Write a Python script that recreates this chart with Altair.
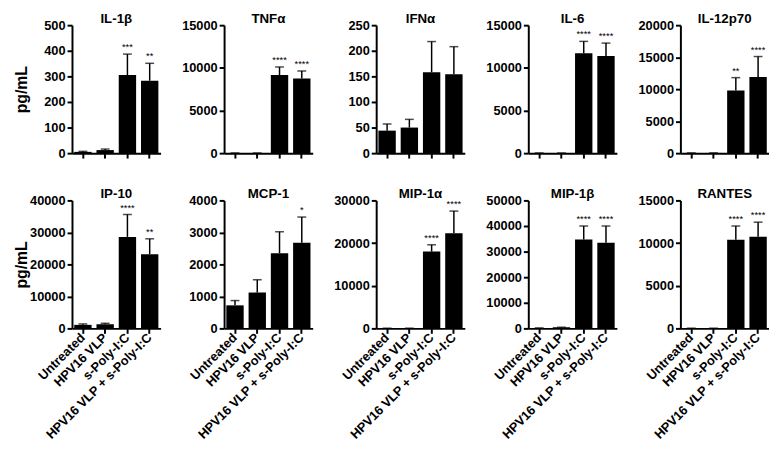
import altair as alt
import pandas as pd

groups = ["Untreated", "HPV16 VLP", "s-Poly-I:C", "HPV16 VLP + s-Poly-I:C"]

cytokines = ["IL-1β", "TNFα", "IFNα", "IL-6", "IL-12p70",
             "IP-10", "MCP-1", "MIP-1α", "MIP-1β", "RANTES"]

mean_il1b = [5, 12, 305, 283]
mean_tnfa = [20, 20, 9150, 8750]
mean_ifna = [44, 50, 158, 154]
mean_il6 = [20, 20, 11700, 11400]
mean_il12 = [30, 30, 9800, 11900]
mean_ip10 = [1100, 1300, 28600, 23200]
mean_mcp1 = [720, 1120, 2350, 2680]
mean_mip1a = [40, 40, 18000, 22300]
mean_mip1b = [150, 400, 34700, 33500]
mean_rantes = [20, 20, 10400, 10750]

err_il1b = [2, 4, 82, 68]
err_tnfa = [5, 5, 950, 880]
err_ifna = [13, 16, 60, 54]
err_il6 = [5, 5, 1400, 1500]
err_il12 = [10, 10, 2000, 3200]
err_ip10 = [300, 300, 7000, 4800]
err_mcp1 = [150, 400, 670, 800]
err_mip1a = [10, 10, 1600, 5200]
err_mip1b = [50, 100, 5300, 6500]
err_rantes = [5, 5, 1600, 1700]

stars_il1b = ["", "", "***", "**"]
stars_tnfa = ["", "", "****", "****"]
stars_ifna = ["", "", "", ""]
stars_il6 = ["", "", "****", "****"]
stars_il12 = ["", "", "**", "****"]
stars_ip10 = ["", "", "****", "**"]
stars_mcp1 = ["", "", "", "*"]
stars_mip1a = ["", "", "****", "****"]
stars_mip1b = ["", "", "****", "****"]
stars_rantes = ["", "", "****", "****"]

ymax = [500, 15000, 250, 15000, 20000, 40000, 4000, 30000, 50000, 15000]
ystep = [100, 5000, 50, 5000, 5000, 10000, 1000, 10000, 10000, 5000]

means = [mean_il1b, mean_tnfa, mean_ifna, mean_il6, mean_il12,
         mean_ip10, mean_mcp1, mean_mip1a, mean_mip1b, mean_rantes]
errs = [err_il1b, err_tnfa, err_ifna, err_il6, err_il12,
        err_ip10, err_mcp1, err_mip1a, err_mip1b, err_rantes]
stars = [stars_il1b, stars_tnfa, stars_ifna, stars_il6, stars_il12,
         stars_ip10, stars_mcp1, stars_mip1a, stars_mip1b, stars_rantes]

FONT = "Liberation Sans"
W, H = 90, 130


def panel(i, row, col):
    df = pd.DataFrame({
        "group": groups,
        "mean": means[i],
        "top": [m + e for m, e in zip(means[i], errs[i])],
        "star": stars[i],
    })
    ticks = list(range(0, ymax[i] + 1, ystep[i]))
    yaxis_kw = dict(values=ticks, format="d", grid=False, labelOverlap=False,
                    tickCount=len(ticks),
                    labelFontSize=13, labelFontWeight="bold", labelFont=FONT,
                    labelColor="black", tickSize=5, tickWidth=2, tickColor="black",
                    domainWidth=2, domainColor="black", labelPadding=2)
    if col == 0:
        yaxis = alt.Axis(title="pg/mL", titleFontSize=16, titleFontWeight="bold",
                         titleFont=FONT, titleColor="black", titlePadding=5,
                         minExtent=38, maxExtent=38, **yaxis_kw)
    else:
        yaxis = alt.Axis(title=None, **yaxis_kw)
    xaxis_kw = dict(title=None, tickSize=5, tickWidth=2, tickColor="black",
                    domainWidth=2, domainColor="black")
    if row == 0:
        xaxis = alt.Axis(labels=False, **xaxis_kw)
    else:
        xaxis = alt.Axis(labelAngle=-45, labelAlign="right", labelBaseline="middle",
                         labelFontSize=13, labelFontWeight="bold", labelFont=FONT,
                         labelColor="black", labelPadding=2, labelLimit=300,
                         labelOverlap=False, **xaxis_kw)
    x = alt.X("group:N", sort=groups, axis=xaxis,
              scale=alt.Scale(paddingInner=0.22, paddingOuter=0.1))
    yscale = alt.Scale(domain=[0, ymax[i]], nice=False)
    ym = alt.Y("mean:Q", scale=yscale, axis=yaxis)
    yt = alt.Y("top:Q", scale=yscale, axis=yaxis)
    base = alt.Chart(df)
    bars = base.mark_bar(color="black").encode(x=x, y=ym)
    rule = base.mark_rule(color="black", strokeWidth=1.5).encode(
        x=x, y=ym, y2="top:Q")
    cap = base.mark_tick(color="black", thickness=1.5, size=9).encode(x=x, y=yt)
    txt = base.mark_text(baseline="bottom", dy=-2, fontSize=9.5, font=FONT,
                         color="black").encode(x=x, y=yt, text="star:N")
    return alt.layer(bars, rule, cap, txt).properties(
        width=W, height=H,
        title=alt.TitleParams(cytokines[i], fontSize=13.5, fontWeight="bold",
                              font=FONT, color="black", offset=-6)
    )


panels = [panel(r * 5 + c, r, c) for r in range(2) for c in range(5)]

chart = alt.concat(*panels, columns=5, spacing={"row": 48, "column": 64.5},
                   bounds="flush").properties(
    padding={"left": 6, "top": 0, "right": 0, "bottom": 0}
).configure_view(stroke=None)

chart.save("out.html", embed_options={"renderer": "svg", "actions": False})
